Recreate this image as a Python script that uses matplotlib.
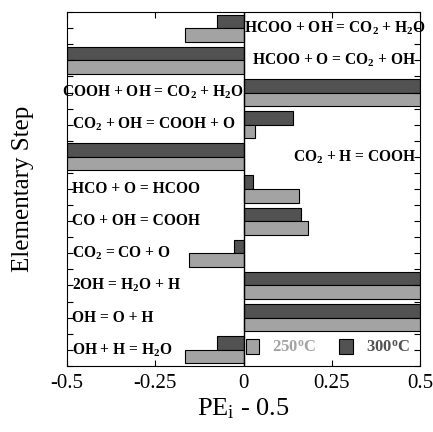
import matplotlib.pyplot as plt
import numpy as np

plt.rcParams['font.family'] = ['Liberation Serif', 'DejaVu Serif']
plt.rcParams['mathtext.fontset'] = 'custom'
plt.rcParams['mathtext.rm'] = 'Liberation Serif'
plt.rcParams['mathtext.bf'] = 'Liberation Serif:bold'
plt.rcParams['mathtext.default'] = 'regular'

# elementary steps, top to bottom
steps = ['HCOO + OH = CO$_2$ + H$_2$O',
         'HCOO + O = CO$_2$ + OH',
         'COOH + OH = CO$_2$ + H$_2$O',
         'CO$_2$ + OH = COOH + O',
         'CO$_2$ + H = COOH',
         'HCO + O = HCOO',
         'CO + OH = COOH',
         'CO$_2$ = CO + O',
         '2OH = H$_2$O + H',
         'OH = O + H',
         'OH + H = H$_2$O']
pe_300 = [-0.074, -0.5, 0.5, 0.139, -0.5, 0.028, 0.162, -0.026, 0.5, 0.5, -0.074]
pe_250 = [-0.165, -0.5, 0.5, 0.031, -0.5, 0.156, 0.182, -0.156, 0.5, 0.5, -0.165]
# steps whose label sits on the right half
right_side = [0, 1, 4]

c250 = '#a3a3a3'
c300 = '#525252'

fig = plt.figure(figsize=(4.33, 4.32), dpi=100)
ax = fig.add_axes([0.155, 0.153, 0.815, 0.819])

y = np.arange(len(steps))
h = 0.42
ax.barh(y - h / 2, pe_300, height=h, color=c300, edgecolor='black', linewidth=0.8, label='300$^{o}$C')
ax.barh(y + h / 2, pe_250, height=h, color=c250, edgecolor='black', linewidth=0.8, label='250$^{o}$C')
ax.axvline(0, color='black', lw=1)

fs = 11.2
for i, s in enumerate(steps):
    if i == 0:
        ax.text(0.515, y[i], s, ha='right', va='center', fontsize=fs, fontweight='bold')
    elif i in right_side:
        ax.text(0.49, y[i], s, ha='right', va='center', fontsize=fs, fontweight='bold')
    elif i == 2:
        ax.text(0.0, y[i], s, ha='right', va='center', fontsize=fs, fontweight='bold')
    else:
        ax.text(-0.485, y[i], s, ha='left', va='center', fontsize=fs, fontweight='bold')

ax.set_xlim(-0.5, 0.5)
ax.set_ylim(len(steps) - 0.5, -0.5)
ax.set_xticks([-0.5, -0.25, 0, 0.25, 0.5])
ax.set_xticklabels(['-0.5', '-0.25', '0', '0.25', '0.5'])
ax.set_yticks(np.arange(-0.5, len(steps), 0.5))
ax.set_yticklabels([])
ax.tick_params(axis='both', direction='in', top=True, right=True, labelsize=15, length=4)
ax.tick_params(axis='x', pad=6)
ax.set_xlabel('PE$_i$ - 0.5', fontsize=19, labelpad=2)
ax.set_ylabel('Elementary Step', fontsize=18, labelpad=20)

handles, labels = ax.get_legend_handles_labels()
leg = ax.legend(handles[::-1], labels[::-1], loc='lower right', ncol=2, frameon=False,
                prop={'weight': 'bold', 'size': 12}, handlelength=0.8, handleheight=1.0,
                columnspacing=1.4, handletextpad=0.8, borderaxespad=0.2)
for t, c in zip(leg.get_texts(), [c250, c300]):
    t.set_color(c)

fig.savefig('out.png', dpi=100)
